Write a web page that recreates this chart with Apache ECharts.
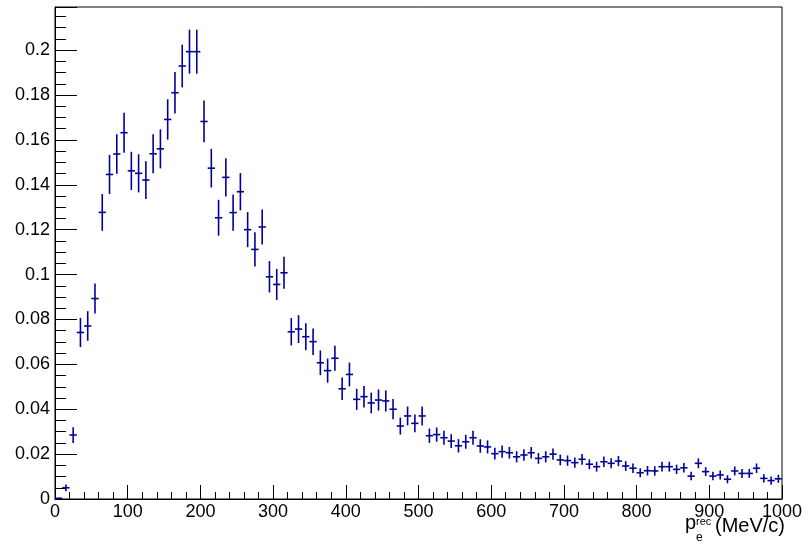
<!DOCTYPE html>
<html>
<head>
<meta charset="utf-8">
<script src="https://cdn.jsdelivr.net/npm/echarts@6/dist/echarts.min.js"></script>
<style>
  html, body { margin: 0; padding: 0; background: #fff; }
  #chart { width: 808px; height: 547px; }
</style>
</head>
<body>
<div id="chart"></div>
<script>
// histogram: 100 bins of 10 MeV/c between 0 and 1000
const binWidth = 10;
const binCenters = [];
for (let i = 0; i < 100; i++) binCenters.push(i * binWidth + binWidth / 2);

// bin contents
const counts = [
  0.0003, 0.0050, 0.0285, 0.0742, 0.0771, 0.0893, 0.1277, 0.1446, 0.1537, 0.1632,
  0.1462, 0.1451, 0.1421, 0.1538, 0.1560, 0.1691, 0.1810, 0.1929, 0.1993, 0.1993,
  0.1682, 0.1474, 0.1253, 0.1433, 0.1276, 0.1369, 0.1200, 0.1112, 0.1212, 0.0990,
  0.0956, 0.1008, 0.0745, 0.0757, 0.0723, 0.0701, 0.0607, 0.0572, 0.0627, 0.0491,
  0.0555, 0.0444, 0.0456, 0.0428, 0.0441, 0.0437, 0.0400, 0.0325, 0.0370, 0.0337,
  0.0370, 0.0282, 0.0287, 0.0273, 0.0258, 0.0237, 0.0255, 0.0273, 0.0236, 0.0232,
  0.0202, 0.0211, 0.0206, 0.0188, 0.0196, 0.0206, 0.0181, 0.0188, 0.0200, 0.0174,
  0.0171, 0.0162, 0.0177, 0.0155, 0.0144, 0.0166, 0.0159, 0.0169, 0.0147, 0.0137,
  0.0117, 0.0126, 0.0125, 0.0144, 0.0144, 0.0132, 0.0139, 0.0102, 0.0159, 0.0122,
  0.0102, 0.0107, 0.0088, 0.0125, 0.0114, 0.0114, 0.0137, 0.0092, 0.0082, 0.0090
];

// half length of the vertical error bars
const errors = [
  0.0003, 0.0015, 0.0035, 0.0065, 0.0066, 0.0067, 0.0082, 0.0087, 0.0088, 0.0089,
  0.0085, 0.0085, 0.0084, 0.0087, 0.0087, 0.0090, 0.0092, 0.0095, 0.0098, 0.0098,
  0.0093, 0.0086, 0.0080, 0.0085, 0.0081, 0.0083, 0.0078, 0.0076, 0.0078, 0.0070,
  0.0069, 0.0071, 0.0061, 0.0062, 0.0060, 0.0059, 0.0055, 0.0054, 0.0056, 0.0050,
  0.0053, 0.0047, 0.0048, 0.0046, 0.0047, 0.0047, 0.0045, 0.0038, 0.0042, 0.0040,
  0.0042, 0.0032, 0.0032, 0.0031, 0.0031, 0.0030, 0.0031, 0.0031, 0.0030, 0.0029,
  0.0026, 0.0027, 0.0026, 0.0025, 0.0026, 0.0026, 0.0024, 0.0025, 0.0025, 0.0024,
  0.0023, 0.0023, 0.0024, 0.0022, 0.0022, 0.0023, 0.0022, 0.0023, 0.0022, 0.0021,
  0.0020, 0.0021, 0.0021, 0.0022, 0.0022, 0.0021, 0.0021, 0.0019, 0.0022, 0.0020,
  0.0019, 0.0020, 0.0018, 0.0020, 0.0020, 0.0020, 0.0021, 0.0018, 0.0018, 0.0018
];

const xTicks = [0, 100, 200, 300, 400, 500, 600, 700, 800, 900, 1000];

const blue = "#000099";
const font = "Liberation Sans, Arial, Helvetica, sans-serif";

const chart = echarts.init(document.getElementById("chart"));

const option = {
  animation: false,
  backgroundColor: "#fff",
  grid: {
    left: 55,
    right: 26,
    top: 7,
    bottom: 48,
    show: true,
    borderColor: "#000",
    borderWidth: 1,
  },
  xAxis: {
    type: "value",
    min: xTicks[0],
    max: xTicks[xTicks.length - 1],
    interval: 100,
    axisLine: { lineStyle: { color: "#000", width: 1 } },
    axisTick: { inside: true, length: 14, lineStyle: { color: "#000" } },
    minorTick: { show: true, splitNumber: 5, length: 7, lineStyle: { color: "#000" } },
    splitLine: { show: false },
    axisLabel: {
      color: "#000",
      fontSize: 18,
      fontFamily: font,
      margin: 4,
      formatter: (v) => String(v),
    },
  },
  yAxis: {
    type: "value",
    min: 0,
    max: 0.2192,
    interval: 0.02,
    axisLine: { show: true, lineStyle: { color: "#000", width: 1 } },
    axisTick: { inside: true, length: 22, lineStyle: { color: "#000" } },
    minorTick: { show: true, splitNumber: 4, length: 11, lineStyle: { color: "#000" } },
    splitLine: { show: false },
    axisLabel: {
      color: "#000",
      fontSize: 18,
      fontFamily: font,
      margin: 5,
      showMaxLabel: false,
      formatter: (v) => String(Math.round(v * 100) / 100),
    },
  },
  // axis title p_e^rec (MeV/c), sub and superscript stacked like ROOT does
  graphic: [
    {
      type: "text",
      left: 685,
      top: 513,
      style: { text: "p", fontSize: 20, fontFamily: font, fill: "#000" },
    },
    {
      type: "text",
      left: 696,
      top: 516,
      style: { text: "rec", fontSize: 11, fontFamily: font, fill: "#000" },
    },
    {
      type: "text",
      left: 696,
      top: 532,
      style: { text: "e", fontSize: 12, fontFamily: font, fill: "#000" },
    },
    {
      type: "text",
      left: 715,
      top: 516,
      style: { text: "(MeV/c)", fontSize: 20, fontFamily: font, fill: "#000" },
    },
  ],
  series: [
    {
      type: "custom",
      clip: true,
      data: binCenters.map((x, i) => [x, counts[i], errors[i]]),
      renderItem: (params, api) => {
        const x = api.value(0);
        const y = api.value(1);
        const e = api.value(2);
        const c = api.coord([x, y]);
        const lo = api.coord([x, y - e]);
        const hi = api.coord([x, y + e]);
        const l = api.coord([x - binWidth / 2, y]);
        const r = api.coord([x + binWidth / 2, y]);
        const style = { stroke: blue, lineWidth: 1.6 };
        return {
          type: "group",
          children: [
            { type: "line", shape: { x1: c[0], y1: lo[1], x2: c[0], y2: hi[1] }, style },
            { type: "line", shape: { x1: l[0], y1: c[1], x2: r[0], y2: c[1] }, style },
          ],
        };
      },
    },
  ],
};

chart.setOption(option);
</script>
</body>
</html>
